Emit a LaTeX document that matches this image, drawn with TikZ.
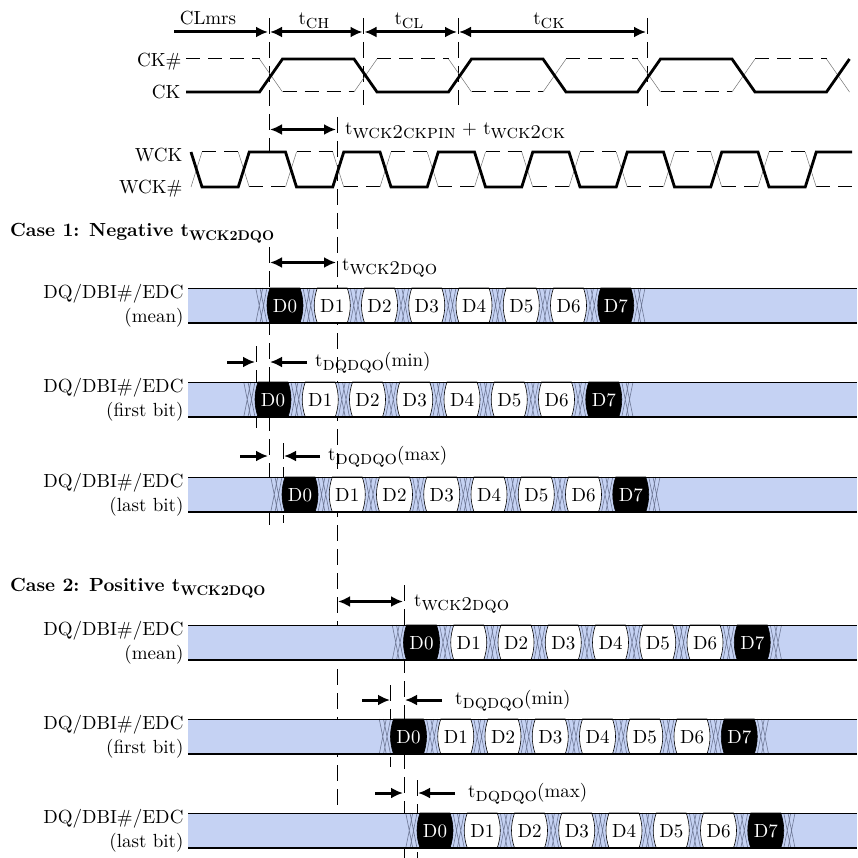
\documentclass[tikz,border=0pt]{standalone}
\usetikzlibrary{arrows.meta}
\DeclareFontFamily{TU}{lmten}{}
\DeclareFontShape{TU}{lmten}{m}{n}{<-> "[lmroman10-regular]:+tlig;"}{}
\DeclareFontShape{TU}{lmten}{bx}{n}{<-> "[lmroman10-bold]:+tlig;"}{}
\DeclareFontShape{TU}{lmten}{m}{sc}{<-> "[lmromancaps10-regular]:+tlig;"}{}
\renewcommand{\rmdefault}{lmten}
\definecolor{busblue}{RGB}{197,210,243}
\definecolor{xgray}{RGB}{110,120,150}
\newcommand{\tsub}[1]{\raisebox{-4pt}{\fontsize{19.5}{20}\selectfont\scshape #1}}
\newcommand{\bsub}[1]{\raisebox{-4pt}{\fontsize{14}{15}\selectfont\bfseries #1}}
% one data bus: name, top y, start of D0, second label line
\newcommand{\busrow}[4]{%
  \fill[busblue] (188,#2) rectangle (857,#2+35);
  \foreach \k in {0,...,8}{%
    \pgfmathsetmacro{\xa}{#3+47.25*\k-11.25}%
    \draw[xline] (\xa,#2) -- (\xa+7,#2+35) (\xa,#2+35) -- (\xa+7,#2)
      (\xa+4.25,#2) -- (\xa+11.25,#2+35) (\xa+4.25,#2+35) -- (\xa+11.25,#2);
  }
  \foreach \k/\fc/\tc in {0/black/white,1/white/black,2/white/black,3/white/black,
      4/white/black,5/white/black,6/white/black,7/black/white}{%
    \pgfmathsetmacro{\xl}{#3+47.25*\k}%
    \pgfmathsetmacro{\xr}{\xl+36}%
    \filldraw[fill=\fc, line width=0.6pt] (\xl+3,#2) -- (\xr-3,#2)
      .. controls (\xr+1,#2+12) and (\xr+1,#2+23) .. (\xr-3,#2+35)
      -- (\xl+3,#2+35) .. controls (\xl-1,#2+23) and (\xl-1,#2+12) .. (\xl+3,#2) -- cycle;
    \node[text=\tc] (#1\k) at ({(\xl+\xr)/2},#2+18) {D\k};
  }
  \draw[line width=1pt] (188,#2) -- (857,#2);
  \draw[line width=2.5pt] (188,#2+35) -- (857,#2+35);
  \node[anchor=east, align=right] (#1lbl) at (187,#2+18) {DQ/DBI\#/EDC\\#4};
}
\begin{document}
\begin{tikzpicture}[x=1pt, y=-1pt, >={Latex[length=12pt,width=11pt]},
    font=\fontsize{19}{24}\selectfont,
    wave/.style={line width=2.8pt},
    cwave/.style={line width=1pt, dash pattern=on 14pt off 8pt},
    slant/.style={line width=0.5pt, black!55},
    guide/.style={line width=1pt, dash pattern=on 16pt off 8pt},
    tarrow/.style={line width=3pt},
    xline/.style={line width=0.6pt, xgray},
    sig/.style={anchor=base east},
    tlabel/.style={anchor=base west, inner sep=0pt}]
  \useasboundingbox (0,0) rectangle (857,858);

  % guide lines
  \draw[guide] (269,18) -- (269,152);
  \draw[guide] (363.5,18) -- (363.5,105);
  \draw[guide] (458,18) -- (458,105);
  \draw[guide] (647,18) -- (647,107);
  \draw[guide] (337.5,117) -- (337.5,807);
  \draw[guide] (269,247) -- (269,525);
  \draw[guide] (256,346) -- (256,428);
  \draw[guide] (283,443) -- (283,523);
  \draw[guide] (404,585) -- (404,858);
  \draw[guide] (390.5,685) -- (390.5,767);
  \draw[guide] (417.5,780) -- (417.5,858);

  % top timing
  \coordinate (clm) at (174,32);
  \coordinate (m0) at (269,32);
  \coordinate (m1) at (363.5,32);
  \coordinate (m2) at (458,32);
  \coordinate (m3) at (647,32);
  \draw[tarrow, ->] (clm) -- ([xshift=-1pt]m0);
  \draw[tarrow, <->] ([xshift=1pt]m0) -- ([xshift=-1pt]m1);
  \draw[tarrow, <->] ([xshift=1pt]m1) -- ([xshift=-1pt]m2);
  \draw[tarrow, <->] ([xshift=1pt]m2) -- ([xshift=-1pt]m3);
  \node[anchor=base] (lclm) at (208,25) {CLmrs};
  \node[anchor=base] (lch) at (314,25) {t\tsub{ch}};
  \node[anchor=base] (lcl) at (409,25) {t\tsub{cl}};
  \node[anchor=base] (lck) at (549,25) {t\tsub{ck}};

  % CK and CK#
  \node[sig] (sckb) at (185,66.5) {CK\#};
  \node[sig] (sck) at (184,99) {CK};
  \draw[cwave] (186,59) -- (259.5,59) (377,59) -- (448.5,59) (566,59) -- (637.5,59)
    (755,59) -- (826.5,59) (282.5,92) -- (354,92) (471.5,92) -- (543,92) (660.5,92) -- (732,92);
  \foreach \e in {271,460,649,838} \draw[slant] (\e-11.5,59) -- (\e+11.5,92);
  \foreach \e in {365.5,554.5,743.5} \draw[slant] (\e-11.5,92) -- (\e+11.5,59);
  \draw[wave] (186,92) -- (259.5,92) -- (282.5,59) -- (354,59) -- (377,92) -- (448.5,92)
    -- (471.5,59) -- (543,59) -- (566,92) -- (637.5,92) -- (660.5,59) -- (732,59)
    -- (755,92) -- (826.5,92) -- (849.5,59);

  % WCK and WCK#
  \node[sig] (swck) at (186,162) {WCK};
  \node[sig] (swckb) at (186,194) {WCK\#};
  \draw[cwave] (202,152) -- (238.25,152) (296.5,152) -- (332.75,152) (391,152) -- (427.25,152)
    (485.5,152) -- (521.75,152) (580,152) -- (616.25,152) (674.5,152) -- (710.75,152)
    (769,152) -- (805.25,152)
    (249.25,187) -- (285.5,187) (343.75,187) -- (380,187) (438.25,187) -- (474.5,187)
    (532.75,187) -- (569,187) (627.25,187) -- (663.5,187) (721.75,187) -- (758,187)
    (816.25,187) -- (852,187);
  \foreach \e in {196.5,291,385.5,480,574.5,669,763.5} \draw[slant] (\e-5.5,187) -- (\e+5.5,152);
  \foreach \e in {243.75,338.25,432.75,527.25,621.75,716.25,810.75} \draw[slant] (\e-5.5,152) -- (\e+5.5,187);
  \draw[wave] (191,152) -- (202,187) -- (238.25,187) -- (249.25,152) -- (285.5,152)
    -- (296.5,187) -- (332.75,187) -- (343.75,152) -- (380,152) -- (391,187)
    -- (427.25,187) -- (438.25,152) -- (474.5,152) -- (485.5,187) -- (521.75,187)
    -- (532.75,152) -- (569,152) -- (580,187) -- (616.25,187) -- (627.25,152)
    -- (663.5,152) -- (674.5,187) -- (710.75,187) -- (721.75,152) -- (758,152)
    -- (769,187) -- (805.25,187) -- (816.25,152) -- (852,152);

  \coordinate (p0) at (270,129.5);
  \coordinate (p1) at (336,129.5);
  \draw[tarrow, <->] (p0) -- (p1);
  \node[tlabel] (lpin) at (345,135) {t\tsub{wck2ckpin} + t\tsub{wck2ck}};

  % Case 1
  \node[tlabel] (case1) at (10,236.5) {\bfseries Case 1: Negative t\bsub{WCK2DQO}};
  \coordinate (q0) at (270,262.5);
  \coordinate (q1) at (336,262.5);
  \draw[tarrow, <->] (q0) -- (q1);
  \node[tlabel] (ldqo1) at (342,271) {t\tsub{wck2dqo}};

  \coordinate (n0) at (227,362);
  \coordinate (n1) at (255,362);
  \coordinate (n2) at (307,362);
  \coordinate (n3) at (270,362);
  \draw[tarrow, ->] (n0) -- (n1);
  \draw[tarrow, ->] (n2) -- (n3);
  \node[tlabel] (lmin1) at (315,366) {t\tsub{dqdqo}(min)};

  \coordinate (x0) at (240,456);
  \coordinate (x1) at (268,456);
  \coordinate (x2) at (320,456);
  \coordinate (x3) at (284,456);
  \draw[tarrow, ->] (x0) -- (x1);
  \draw[tarrow, ->] (x2) -- (x3);
  \node[tlabel] (lmax1) at (328,460) {t\tsub{dqdqo}(max)};

  \busrow{a}{288}{267}{(mean)}
  \busrow{b}{382}{255}{(first bit)}
  \busrow{c}{477}{282}{(last bit)}

  % Case 2
  \node[tlabel] (case2) at (10,591.5) {\bfseries Case 2: Positive t\bsub{WCK2DQO}};
  \coordinate (r0) at (338,601.5);
  \coordinate (r1) at (403,601.5);
  \draw[tarrow, <->] (r0) -- (r1);
  \node[tlabel] (ldqo2) at (414,606) {t\tsub{wck2dqo}};

  \coordinate (u0) at (362,700);
  \coordinate (u1) at (390,700);
  \coordinate (u2) at (442,700);
  \coordinate (u3) at (405,700);
  \draw[tarrow, ->] (u0) -- (u1);
  \draw[tarrow, ->] (u2) -- (u3);
  \node[tlabel] (lmin2) at (455,704) {t\tsub{dqdqo}(min)};

  \coordinate (v0) at (375,793);
  \coordinate (v1) at (403,793);
  \coordinate (v2) at (455,793);
  \coordinate (v3) at (418,793);
  \draw[tarrow, ->] (v0) -- (v1);
  \draw[tarrow, ->] (v2) -- (v3);
  \node[tlabel] (lmax2) at (468,797) {t\tsub{dqdqo}(max)};

  \busrow{d}{625}{403.5}{(mean)}
  \busrow{e}{719}{390.5}{(first bit)}
  \busrow{f}{813}{417}{(last bit)}
\end{tikzpicture}
\end{document}
